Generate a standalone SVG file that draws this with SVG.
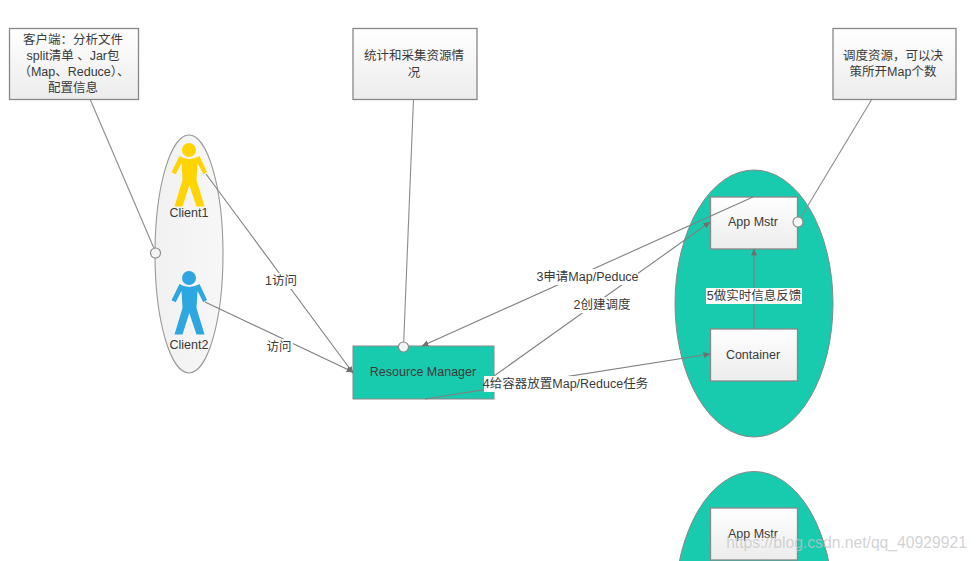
<svg xmlns="http://www.w3.org/2000/svg" xmlns:xlink="http://www.w3.org/1999/xlink" width="976" height="561" viewBox="0 0 976 561">
<style>
text{font-family:"Liberation Sans","Noto Sans CJK SC",sans-serif;font-size:12.5px;fill:#3a3a3a;text-anchor:middle}
.box{fill:url(#g);stroke:#888;stroke-width:1.3}
.note{fill:url(#g);stroke:#888;stroke-width:1.3}
.teal{fill:#18cbae;stroke:#888;stroke-width:1}
.line{fill:none;stroke:#8c8c8c;stroke-width:1.1}
.arrow{fill:none;stroke:#808080;stroke-width:1.1;marker-end:url(#a)}
.port{fill:#f4f4f4;stroke:#888;stroke-width:1.1}
.bg{fill:#fff}
</style>
<defs>
<linearGradient id="g" x1="0" y1="0" x2="0" y2="1"><stop offset="0" stop-color="#fff"/><stop offset="1" stop-color="#ececec"/></linearGradient>
<linearGradient id="g2" x1="0" y1="0" x2="1" y2="0"><stop offset="0" stop-color="#f1f1f1"/><stop offset="1" stop-color="#f7f7f7"/></linearGradient>
<marker id="a" markerWidth="8" markerHeight="8" refX="6.5" refY="3" orient="auto" markerUnits="userSpaceOnUse"><path d="M0 0L7 3L0 6Z" fill="#707070"/></marker>
<path id="actor" d="M179.500 156Q189 162 199.500 156L207 172L203.300 174.300L197.500 163L196.500 180L204.500 206.500L196.500 206.500L189.300 185L182.500 206.500L174.500 206.500L182.500 180L181.500 163L175.700 174.300L171.500 172.300Z"/>
</defs>
<rect width="976" height="561" fill="#fff"/>
<g id="client-group"><ellipse cx="189" cy="254" rx="34" ry="119" fill="url(#g2)" stroke="#999" stroke-width="1.100"/></g>
<g id="yarn-child-1"><ellipse class="teal" cx="754" cy="303.500" rx="79" ry="133.500"/></g>
<g id="yarn-child-2"><ellipse class="teal" cx="754" cy="605" rx="79" ry="133.500"/></g>
<g id="resource-manager"><rect x="353" y="346" width="141" height="53" class="teal" stroke-width="1.300"/><text x="423" y="376">Resource Manager</text></g>
<g id="note-client"><rect class="note" x="9.500" y="28.500" width="129" height="71"/><text x="73" y="44">客户端：分析文件</text><text x="73" y="60">split清单 、Jar包</text><text x="74" y="76">（Map、Reduce）、</text><text x="73" y="92">配置信息</text></g>
<g id="note-stats"><rect class="note" x="353" y="28.500" width="124" height="71"/><text x="414" y="60">统计和采集资源情</text><text x="414" y="77">况</text></g>
<g id="note-schedule"><rect class="note" x="833" y="28.500" width="123" height="71"/><text x="893" y="60">调度资源，可以决</text><text x="893" y="76">策所开Map个数</text></g>
<g id="client1"><circle cx="189" cy="150" r="7" fill="#ffd400"/><use xlink:href="#actor" href="#actor" fill="#ffd400"/><text x="189" y="217">Client1</text></g>
<g id="client2"><circle cx="189" cy="278" r="7" fill="#2ea6e0"/><use xlink:href="#actor" href="#actor" y="128" fill="#2ea6e0"/><text x="189" y="349">Client2</text></g>
<g id="app-mstr-1"><rect class="box" x="710.500" y="197" width="87" height="52"/><text x="753" y="226">App Mstr</text></g>
<g id="container"><rect class="box" x="710.500" y="329" width="87" height="52"/><text x="753" y="359">Container</text></g>
<g id="app-mstr-2"><rect class="box" x="710.500" y="508" width="87" height="52"/><text x="753" y="538">App Mstr</text></g>
<g id="connectors">
<path class="line" d="M90 99L156 253"/>
<path class="line" d="M413.500 99L403.500 347"/>
<path class="line" d="M872 99L798 222"/>
<path class="arrow" d="M206 174L353 373"/>
<path class="arrow" d="M205 302L353 372"/>
<path class="arrow" d="M753 197L422 346"/>
<path class="arrow" d="M494 376L710 222"/>
<path class="arrow" d="M425 399L710 354"/>
<path class="arrow" d="M754 329L754 249"/>
</g>
<g id="ports">
<circle class="port" cx="155.500" cy="253" r="5"/>
<circle class="port" cx="403.500" cy="347" r="5"/>
<circle class="port" cx="798" cy="222" r="5"/>
</g>
<g id="labels">
<rect class="bg" x="264" y="273" width="33" height="16"/><text x="281" y="285">1访问</text>
<rect class="bg" x="265" y="339" width="28" height="16"/><text x="279" y="351">访问</text>
<rect class="bg" x="537" y="269" width="101" height="16"/><text x="587.500" y="281">3申请Map/Peduce</text>
<rect class="bg" x="573" y="297" width="58" height="16"/><text x="602" y="309">2创建调度</text>
<rect class="bg" x="484" y="376" width="163" height="16"/><text x="565.500" y="388">4给容器放置Map/Reduce任务</text>
<rect class="bg" x="706" y="288" width="96" height="16"/><text x="754" y="300">5做实时信息反馈</text>
</g>
<text x="846.500" y="548" style="font-size:15.700px;fill:#c4c4c4;fill-opacity:.75">https://blog.csdn.net/qq_40929921</text>
</svg>
